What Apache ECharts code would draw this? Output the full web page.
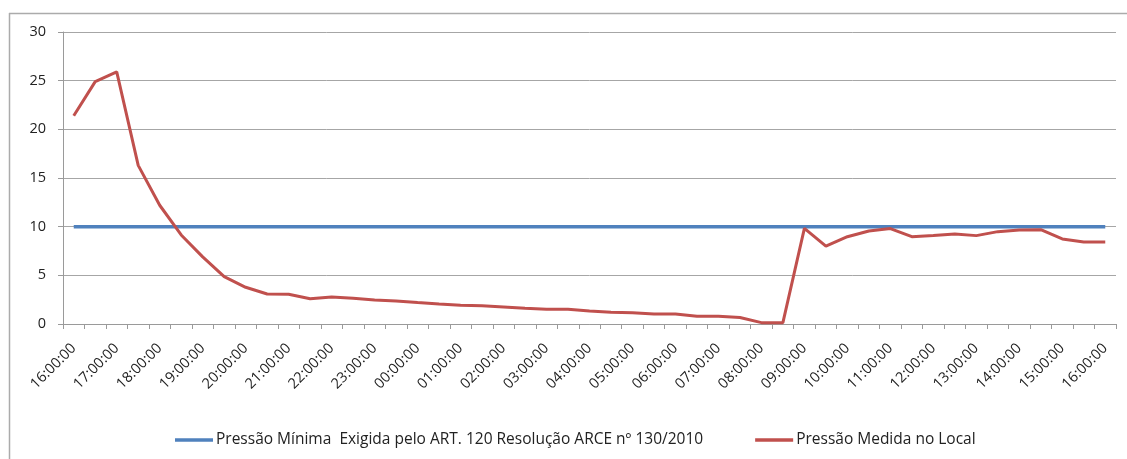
<!DOCTYPE html>
<html>
<head>
<meta charset="utf-8">
<script src="https://cdn.jsdelivr.net/npm/echarts@6/dist/echarts.min.js"></script>
<style>
html,body{margin:0;padding:0;background:#fff;}
#c{width:1127px;height:459px;}
</style>
</head>
<body>
<div id="c"></div>
<script>
const categories = [
 "16:00:00","16:30:00","17:00:00","17:30:00","18:00:00","18:30:00","19:00:00","19:30:00",
 "20:00:00","20:30:00","21:00:00","21:30:00","22:00:00","22:30:00","23:00:00","23:30:00",
 "00:00:00","00:30:00","01:00:00","01:30:00","02:00:00","02:30:00","03:00:00","03:30:00",
 "04:00:00","04:30:00","05:00:00","05:30:00","06:00:00","06:30:00","07:00:00","07:30:00",
 "08:00:00","08:30:00","09:00:00","09:30:00","10:00:00","10:30:00","11:00:00","11:30:00",
 "12:00:00","12:30:00","13:00:00","13:30:00","14:00:00","14:30:00","15:00:00","15:30:00",
 "16:00:00"
];
const pressaoMinima = [
 10,10,10,10,10,10,10,10,10,10,10,10,10,10,10,10,10,10,10,10,10,10,10,10,10,
 10,10,10,10,10,10,10,10,10,10,10,10,10,10,10,10,10,10,10,10,10,10,10,10
];
const pressaoMedida = [
 21.4,24.9,25.9,16.3,12.2,9.15,6.9,4.86,3.77,3.08,3.05,2.6,2.77,2.64,2.47,2.36,
 2.2,2.05,1.92,1.88,1.75,1.61,1.51,1.51,1.34,1.2,1.16,1.03,1.03,0.79,0.79,0.67,
 0.14,0.14,9.83,8.0,8.97,9.56,9.8,8.97,9.1,9.25,9.08,9.49,9.66,9.69,8.74,8.43,8.43
];
const yTicks = {min:0, max:30, interval:5};
const seriesNames = [
 "Pressão Mínima  Exigida pelo ART. 120 Resolução ARCE nº 130/2010",
 "Pressão Medida no Local"
];

const chart = echarts.init(document.getElementById('c'), null, {renderer:'canvas'});
const font = "'Open Sans', 'DejaVu Sans', sans-serif";
chart.setOption({
  animation:false,
  backgroundColor:'#ffffff',
  textStyle:{fontFamily:font},
  grid:{left:63, right:11, top:32, bottom:135, containLabel:false},
  graphic:[
    {type:'line', shape:{x1:9.5,y1:13,x2:9.5,y2:459}, style:{stroke:'#ababab', lineWidth:1.5}},
    {type:'line', shape:{x1:9,y1:13.5,x2:1127,y2:13.5}, style:{stroke:'#ababab', lineWidth:1.5}}
  ],
  legend:{
    left:170, top:427,
    itemWidth:38, itemHeight:3.5, itemGap:52,
    icon:'rect',
    textStyle:{fontFamily:font, fontSize:15.5, color:'#222', padding:[0,0,0,-2]},
    data:seriesNames
  },
  xAxis:{
    type:'category',
    data:categories,
    boundaryGap:true,
    axisLine:{show:true, lineStyle:{color:'#9a9a9a', width:1}},
    axisTick:{show:true, interval:0, length:5, lineStyle:{color:'#9a9a9a'}},
    axisLabel:{interval:1, rotate:45, fontSize:14.5, color:'#222', margin:22, fontFamily:font},
    splitLine:{show:false}
  },
  yAxis:{
    type:'value',
    min:yTicks.min, max:yTicks.max, interval:yTicks.interval,
    axisLine:{show:true, lineStyle:{color:'#9a9a9a', width:1}},
    axisTick:{show:true, length:5, lineStyle:{color:'#9a9a9a'}},
    axisLabel:{fontSize:14.5, color:'#222', margin:17, fontFamily:font},
    splitLine:{show:true, lineStyle:{color:'#a6a6a6', width:1}}
  },
  series:[
    {name:seriesNames[0], type:'line', data:pressaoMinima, symbol:'none',
     lineStyle:{color:'#4F81BD', width:3.5}, itemStyle:{color:'#4F81BD'}},
    {name:seriesNames[1], type:'line', data:pressaoMedida, symbol:'none',
     lineStyle:{color:'#C0504D', width:3}, itemStyle:{color:'#C0504D'}}
  ]
});
</script>
</body>
</html>
